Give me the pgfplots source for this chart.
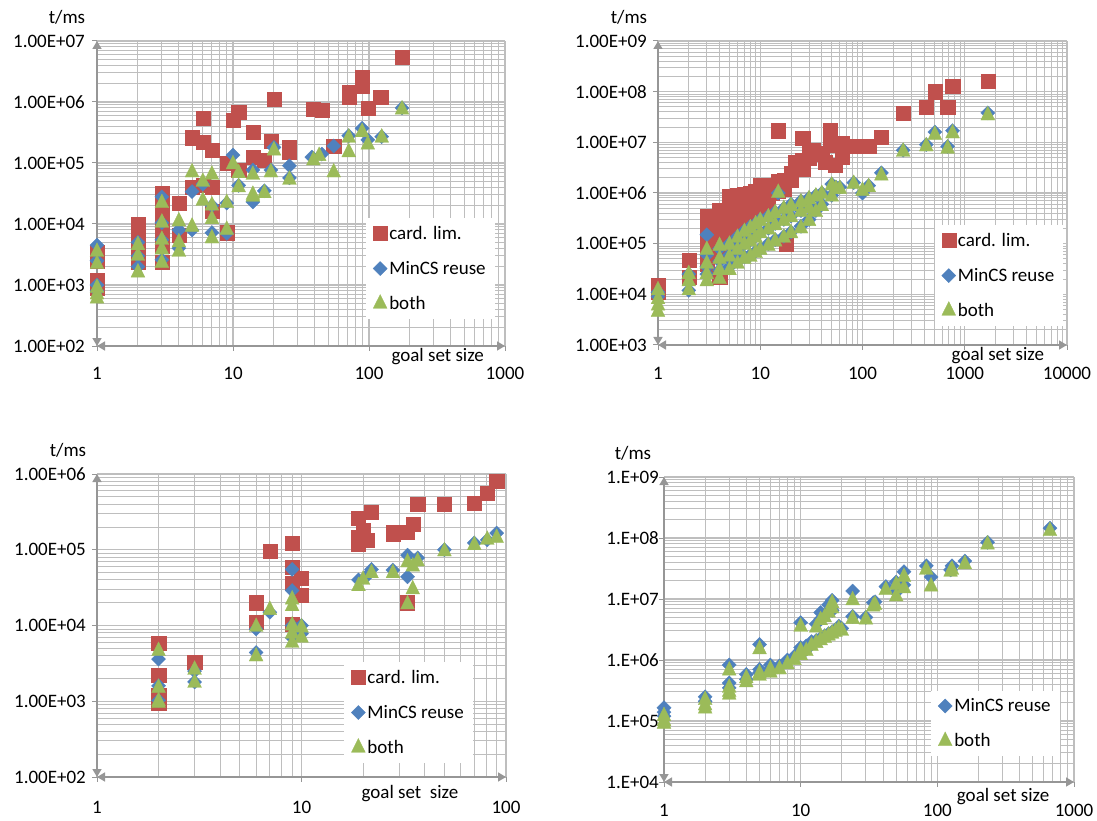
\documentclass[border=0pt]{standalone}
\usepackage{fontspec}
\setmainfont{Carlito}
\usepackage{pgfplots}
\pgfplotsset{compat=1.18}
\usetikzlibrary{arrows.meta}
\definecolor{cred}{RGB}{192,80,77}
\definecolor{cblue}{RGB}{79,129,189}
\definecolor{cgreen}{RGB}{155,187,89}
\definecolor{gridc}{RGB}{190,190,190}
\definecolor{axc}{RGB}{150,150,150}
\newcommand\lf{\fontsize{19}{23}\selectfont}
\pgfplotsset{
  every axis/.append style={
    scale only axis,
    grid=both,
    major grid style={line width=1.2pt, color=gridc},
    minor grid style={line width=0.9pt, color=gridc},
    axis x line*=bottom, axis y line*=left,
    tick align=outside, major tick length=5pt, minor tick length=0pt,
    tick style={color=axc, line width=1pt},
    xticklabel style={font=\lf, anchor=center, inner sep=0pt, yshift=-22pt},
    yticklabel style={font=\lf, anchor=east, inner sep=0pt},
    clip=false,
    legend style={draw=none, fill=white, font=\lf, anchor=north west,
      inner xsep=7pt, inner ysep=6pt, row sep=16.5pt},
    legend cell align=left,
    xlabel style={font=\lf, anchor=center},
    ylabel style={font=\lf, anchor=center, rotate=-90},
  },
  every outer x axis line/.append style={axc, line width=1.5pt, {Triangle[width=9pt,length=8pt]}-{Triangle[width=9pt,length=8pt]}},
  every outer y axis line/.append style={axc, line width=1.5pt, {Triangle[width=9pt,length=8pt]}-{Triangle[width=9pt,length=8pt]}},
  pred/.style={only marks, mark=square*, mark size=7.1pt, mark options={draw=cred, fill=cred, line width=0.3pt}},
  pblue/.style={only marks, mark=square*, mark size=5pt, mark options={draw=cblue, fill=cblue, rotate=45, line width=0.3pt}},
  pgreen/.style={only marks, mark=triangle*, mark size=8pt, mark options={draw=cgreen, fill=cgreen, yscale=1.15, line width=0.3pt}},
}
\begin{document}
\begin{tikzpicture}[x=1pt,y=1pt]
\path[use as bounding box] (0pt,0pt) rectangle (1097pt,-821pt);

% ---------------- Panel 1 ----------------
\begin{axis}[xmode=log, ymode=log,
  at={(97pt,-346pt)}, anchor=south west, width=408pt, height=305pt,
  xmin=1, xmax=1000, ymin=1e2, ymax=1e7,
  xtick={1,10,100,1000}, xticklabels={1,10,100,1000},
  minor xtick={2,3,4,5,6,7,8,9,20,30,40,50,60,70,80,90,200,300,400,500,600,700,800,900},
  ytick={1e2,1e3,1e4,1e5,1e6,1e7},
  yticklabels={1.00E+02,1.00E+03,1.00E+04,1.00E+05,1.00E+06,1.00E+07},
  minor ytick={2e2,3e2,4e2,5e2,6e2,7e2,8e2,9e2,2e3,3e3,4e3,5e3,6e3,7e3,8e3,9e3,2e4,3e4,4e4,5e4,6e4,7e4,8e4,9e4,2e5,3e5,4e5,5e5,6e5,7e5,8e5,9e5,2e6,3e6,4e6,5e6,6e6,7e6,8e6,9e6},
  yticklabel style={xshift=-7pt},
  ylabel={t/ms}, ylabel style={at={(axis description cs:-0.0735,1.079)}},
  xlabel={goal set size}, xlabel style={at={(axis description cs:0.835,-0.036)}},
  legend style={at={(0.659,0.42)}},
]
\addplot[pred] coordinates {(1,3500) (1,2500) (1,1200) (1,900)
(2,1e4) (2,6500) (2,4000) (2,2400)
(3,3.2e4) (3,1.9e4) (3,1.2e4) (3,7200) (3,4300) (3,2400)
(4,2.2e4) (4,6500) (5,2.6e5) (5,4e4) (6,5.5e5) (6,2.2e5) (6,4.3e4)
(7,1.6e5) (7,4e4) (7,1.6e4) (9,1e5) (9,7200) (10,5e5) (11,6.8e5) (11,7.7e4)
(14,3.2e5) (14,1.25e5) (17,1.1e5) (19,2.3e5) (20,1.1e6) (26,1.8e5) (26,1.5e5)
(39,7.7e5) (45,7.4e5) (55,1.9e5) (71,1.45e6) (71,1.2e6) (89,2.5e6) (89,1.8e6)
(98,8e5) (122,1.2e6) (175,5.5e6)};
\addlegendentry{card. lim.}
\addplot[pblue] coordinates {(1,4500) (1,2500) (1,1000) (1,800)
(2,5000) (2,3000) (2,2000) (3,2.8e4) (3,1.05e4) (3,5500) (3,2600)
(4,8000) (4,4000) (5,3.4e4) (5,8000) (6,4.5e4) (7,2e4) (7,7200) (9,2.2e4) (9,7000)
(10,1.35e5) (11,4.3e4) (14,7.7e4) (14,2.3e4) (17,3.5e4) (19,7.7e4) (20,1.8e5)
(26,9e4) (26,5.7e4) (38,1.25e5) (45,1.4e5) (55,1.9e5) (71,2.8e5) (89,3.7e5)
(98,2.4e5) (124,2.7e5) (175,8e5)};
\addlegendentry{MinCS reuse}
\addplot[pgreen] coordinates {(1,3500) (1,2200) (1,900) (1,700) (1,600)
(2,4500) (2,3000) (2,1600) (3,2.2e4) (3,1.05e4) (3,5500) (3,3800) (3,2300)
(4,1.1e4) (4,5000) (4,3500) (5,7e4) (5,9000) (6,4.9e4) (6,2.4e4)
(7,6.4e4) (7,2e4) (7,1.2e4) (7,5800) (9,2.2e4) (9,8000) (10,9.5e4)
(11,6.8e4) (11,4e4) (14,6.4e4) (14,3e4) (14,2.8e4) (17,3.2e4) (19,7e4) (20,1.6e5)
(26,5.3e4) (39,1.1e5) (43,1.3e5) (55,7e4) (71,2.6e5) (71,1.5e5) (89,3.2e5)
(98,2e5) (124,2.6e5) (175,7.5e5)};
\addlegendentry{both}
\end{axis}

% ---------------- Panel 2 ----------------
\begin{axis}[xmode=log, ymode=log,
  at={(658pt,-345pt)}, anchor=south west, width=409pt, height=304pt,
  xmin=1, xmax=10000, ymin=1e3, ymax=1e9,
  xtick={1,10,100,1000,10000}, xticklabels={1,10,100,1000,10000},
  minor xtick={2,3,4,5,6,7,8,9,20,30,40,50,60,70,80,90,200,300,400,500,600,700,800,900,2000,3000,4000,5000,6000,7000,8000,9000},
  ytick={1e3,1e4,1e5,1e6,1e7,1e8,1e9},
  yticklabels={1.00E+03,1.00E+04,1.00E+05,1.00E+06,1.00E+07,1.00E+08,1.00E+09},
  minor ytick={2e3,3e3,4e3,5e3,6e3,7e3,8e3,9e3,2e4,3e4,4e4,5e4,6e4,7e4,8e4,9e4,2e5,3e5,4e5,5e5,6e5,7e5,8e5,9e5,2e6,3e6,4e6,5e6,6e6,7e6,8e6,9e6,2e7,3e7,4e7,5e7,6e7,7e7,8e7,9e7,2e8,3e8,4e8,5e8,6e8,7e8,8e8,9e8},
  yticklabel style={xshift=-6pt},
  xticklabel style={yshift=-1pt},
  ylabel={t/ms}, ylabel style={at={(axis description cs:-0.0709,1.079)}},
  xlabel={goal set size}, xlabel style={at={(axis description cs:0.831,-0.036)}},
  legend style={at={(0.676,0.395)}},
]
\addplot[pred] coordinates {(1,1.5e4) (1,1.1e4) (2,4.8e4) (2,2.2e4)
(3,3.4e5) (3,2.5e5) (3,1.8e5) (3,1.3e5) (3,9e4) (3,6e4) (3,4e4)
(4,4.6e5) (4,3.5e5) (4,2.2e5) (4,1.2e5) (4,6e4) (4,2.2e4)
(5,8.5e5) (5,6e5) (5,4e5) (5,2.5e5) (5,1.5e5)
(6,8.9e5) (6,7e5) (6,5e5) (6,3e5) (6,1.8e5)
(7,9.5e5) (7,7e5) (7,4.5e5) (7,2.5e5)
(8,1e6) (8,8e5) (8,5e5) (8,3e5)
(9,1.1e6) (9,7.5e5) (9,4.5e5)
(10,1.4e6) (10,1e6) (10,6.5e5) (10,4e5)
(11,1.2e6) (11,8e5) (12,1.3e6) (12,9e5) (12,5e5) (13,1.4e6) (13,1e6)
(15,1.7e7) (15,1.7e6) (15,1.1e6) (17,1.8e6) (17,1.2e6) (18,1e5)
(20,2.5e6) (20,1.8e6) (22,4e6) (22,3e6) (26,1.2e7) (26,4.5e6) (26,3e6)
(30,7e6) (30,5e6) (33,7e6) (40,6e6) (43,4e6) (48,1.7e7) (48,9e6) (54,3.5e6)
(63,9.8e6) (63,5.2e6) (85,8.3e6) (115,8.5e6) (153,1.25e7) (250,3.8e7)
(420,5e7) (510,1e8) (680,5e7) (760,1.3e8) (1680,1.6e8)};
\addlegendentry{card. lim.}
\addplot[pblue] coordinates {(1,1.1e4) (1,9000) (2,2.5e4) (2,1.2e4)
(3,1.5e5) (3,6e4) (3,3.5e4) (3,2.5e4) (4,8e4) (4,4.5e4) (4,3e4)
(5,1e5) (5,6e4) (5,3.5e4) (6,1.4e5) (6,8e4) (6,4.5e4)
(7,1.8e5) (7,1e5) (7,5.5e4) (8,2.2e5) (8,1.2e5) (8,6e4)
(9,2.5e5) (9,1.4e5) (9,7e4) (10,3e5) (10,1.7e5) (10,8e4)
(12,3.5e5) (12,2e5) (12,1e5) (14,4.2e5) (14,2.5e5) (14,1.2e5) (15,1e6)
(17,5e5) (17,3e5) (17,1.4e5) (20,6e5) (20,3.5e5) (20,1.7e5)
(25,7e5) (25,4.5e5) (25,2.2e5) (30,8e5) (30,5.5e5) (30,3e5)
(35,9e5) (35,4.5e5) (40,1e6) (40,6e5) (50,1.5e6) (50,9e5) (55,1.3e6) (60,1.3e6)
(82,1.6e6) (100,1e6) (115,1.4e6) (153,2.5e6) (250,7e6) (420,9e6)
(510,1.6e7) (680,8.3e6) (760,1.7e7) (1680,3.8e7)};
\addlegendentry{MinCS reuse}
\addplot[pgreen] coordinates {(1,1.2e4) (1,8000) (1,6000) (1,4500)
(2,2.5e4) (2,1.8e4) (2,1.2e4) (3,7.5e4) (3,4e4) (3,2.5e4) (3,1.8e4)
(4,9e4) (4,5e4) (4,3e4) (4,2e4) (5,9.5e4) (5,5.5e4) (5,3e4)
(6,1.3e5) (6,7.5e4) (6,4e4) (7,1.7e5) (7,9.5e4) (7,5e4)
(8,2e5) (8,1.1e5) (8,5.5e4) (9,2.4e5) (9,1.3e5) (9,6.5e4)
(10,2.8e5) (10,1.6e5) (10,7.5e4) (12,3.3e5) (12,1.9e5) (12,9e4)
(14,4e5) (14,2.3e5) (14,1.1e5) (15,1e6) (17,4.8e5) (17,2.8e5) (17,1.3e5)
(20,5.5e5) (20,3.3e5) (20,1.6e5) (25,6.5e5) (25,4.2e5) (25,2e5)
(30,7.5e5) (30,5e5) (30,2.8e5) (35,8.5e5) (35,4.2e5) (40,9.5e5) (40,5.5e5)
(50,1.4e6) (50,8.5e5) (55,1.2e6) (60,1.2e6) (82,1.5e6) (100,1.1e6) (115,1.3e6)
(153,2.2e6) (250,6.5e6) (420,8.3e6) (510,1.4e7) (680,7.5e6) (760,1.5e7) (1680,3.4e7)};
\addlegendentry{both}
\end{axis}

% ---------------- Panel 3 ----------------
\begin{axis}[xmode=log, ymode=log,
  at={(97pt,-777pt)}, anchor=south west, width=409pt, height=303pt,
  xmin=1, xmax=100, ymin=1e2, ymax=1e6,
  xtick={1,10,100}, xticklabels={1,10,100},
  minor xtick={2,3,4,5,6,7,8,9,20,30,40,50,60,70,80,90},
  ytick={1e2,1e3,1e4,1e5,1e6},
  yticklabels={1.00E+02,1.00E+03,1.00E+04,1.00E+05,1.00E+06},
  minor ytick={2e2,3e2,4e2,5e2,6e2,7e2,8e2,9e2,2e3,3e3,4e3,5e3,6e3,7e3,8e3,9e3,2e4,3e4,4e4,5e4,6e4,7e4,8e4,9e4,2e5,3e5,4e5,5e5,6e5,7e5,8e5,9e5},
  yticklabel style={xshift=-6pt},
  xticklabel style={yshift=-3pt},
  ylabel={t/ms}, ylabel style={at={(axis description cs:-0.0709,1.079)}},
  xlabel={goal set\ \ size}, xlabel style={at={(axis description cs:0.765,-0.053)}},
  legend style={at={(0.604,0.38)}},
]
\addplot[pred] coordinates {(2,5900) (2,2200) (2,1200) (2,950) (3,3300)
(6,2e4) (6,1.1e4) (7,9.6e4) (9,1.23e5) (9,5.9e4) (9,3.6e4) (9,1.03e4)
(10,4.2e4) (10,2.5e4) (19,2.6e5) (19,1.45e5) (19,1.2e5) (20,1.8e5) (21,1.35e5)
(22,3.1e5) (28,1.7e5) (28,1.6e5) (33,1.7e5) (33,2e4) (35,2.2e5) (37,4e5)
(50,4e5) (70,4.1e5) (81,5.6e5) (90,8.1e5)};
\addlegendentry{card. lim.}
\addplot[pblue] coordinates {(2,3600) (2,1600) (2,1030) (3,2500) (3,1800)
(6,9000) (6,4400) (7,1.5e4) (9,5.5e4) (9,2.9e4) (9,1e4) (9,6900)
(10,1e4) (10,7800) (19,4e4) (21,4.6e4) (22,5.5e4) (28,5.4e4) (33,8.5e4) (33,4.4e4)
(37,7.8e4) (50,1e5) (70,1.23e5) (81,1.35e5) (90,1.66e5)};
\addlegendentry{MinCS reuse}
\addplot[pgreen] coordinates {(2,4600) (2,1500) (2,1000) (2,950) (3,2600) (3,1750)
(6,9600) (6,3900) (7,1.6e4) (9,2.2e4) (9,1.8e4) (9,1e4) (9,7800) (9,5900)
(10,9400) (10,6900) (19,3.3e4) (20,4e4) (22,4.9e4) (28,4.9e4) (33,6.8e4) (33,1.9e4)
(35,6e4) (35,3e4) (37,7e4) (50,9.5e4) (70,1.15e5) (81,1.35e5) (90,1.43e5)};
\addlegendentry{both}
\end{axis}

% ---------------- Panel 4 ----------------
\begin{axis}[xmode=log, ymode=log,
  at={(664pt,-782pt)}, anchor=south west, width=410pt, height=305pt,
  xmin=1, xmax=1000, ymin=1e4, ymax=1e9,
  xtick={1,10,100,1000}, xticklabels={1,10,100,1000},
  minor xtick={2,3,4,5,6,7,8,9,20,30,40,50,60,70,80,90,200,300,400,500,600,700,800,900},
  ytick={1e4,1e5,1e6,1e7,1e8,1e9},
  yticklabels={1.E+04,1.E+05,1.E+06,1.E+07,1.E+08,1.E+09},
  minor ytick={2e4,3e4,4e4,5e4,6e4,7e4,8e4,9e4,2e5,3e5,4e5,5e5,6e5,7e5,8e5,9e5,2e6,3e6,4e6,5e6,6e6,7e6,8e6,9e6,2e7,3e7,4e7,5e7,6e7,7e7,8e7,9e7,2e8,3e8,4e8,5e8,6e8,7e8,8e8,9e8},
  yticklabel style={xshift=0pt},
  xticklabel style={yshift=-1pt},
  ylabel={t/ms}, ylabel style={at={(axis description cs:-0.0756,1.079)}},
  xlabel={goal set size}, xlabel style={at={(axis description cs:0.827,-0.049)}},
  legend style={at={(0.651,0.30)}},
]
\addplot[pblue] coordinates {(1,1.65e5) (1,1.4e5) (1,1.2e5) (2,2.5e5) (2,2.1e5)
(3,8.3e5) (3,4.2e5) (3,3.5e5) (4,5.8e5) (4,4.8e5) (5,1.8e6) (5,7e5) (5,6.2e5)
(6,8.3e5) (6,7.2e5) (7,8e5) (8,1e6) (9,1.15e6) (10,4.1e6) (10,1.6e6) (10,1.4e6)
(11,1.7e6) (11,1.5e6) (12,2e6) (12,1.8e6) (13,3.9e6) (13,2.1e6)
(14,6e6) (14,4.7e6) (14,2.3e6) (15,5.5e6) (15,2.5e6) (16,8e6) (16,2.7e6)
(17,9.5e6) (17,6.5e6) (17,2.9e6) (18,3.1e6) (19,3.6e6) (20,3.3e6)
(24,1.35e7) (24,5.2e6) (30,5e6) (34,8.7e6) (35,9e6) (42,1.6e7)
(50,1.9e7) (50,1.3e7) (57,2.8e7) (57,1.7e7) (83,3.5e7) (90,2.3e7)
(125,3e7) (128,3.5e7) (159,4.2e7) (233,8.5e7) (667,1.45e8)};
\addlegendentry{MinCS reuse}
\addplot[pgreen] coordinates {(1,1.2e5) (1,1e5) (1,9e4) (2,2.2e5) (2,1.8e5) (2,1.6e5)
(3,6.7e5) (3,3.5e5) (3,3e5) (3,2.7e5) (4,5e5) (4,4.3e5) (5,1.5e6) (5,6e5) (5,5.5e5)
(6,7e5) (6,6.2e5) (7,7e5) (8,8.5e5) (9,1e6) (10,3.5e6) (10,1.4e6) (10,1.2e6)
(11,1.4e6) (12,1.7e6) (13,3.4e6) (13,1.9e6) (14,4.5e6) (14,2.1e6)
(15,5e6) (15,2.3e6) (16,6e6) (16,2.5e6) (17,7e6) (17,8.5e6) (17,2.7e6)
(18,2.9e6) (19,3.2e6) (20,3e6) (24,9.5e6) (24,4.7e6) (30,4.6e6) (34,7.5e6) (35,8e6)
(42,1.4e7) (50,1.7e7) (50,1.1e7) (57,2.3e7) (57,1.5e7) (83,3e7) (90,1.6e7)
(125,2.8e7) (128,3e7) (159,3.7e7) (233,7.8e7) (667,1.3e8)};
\addlegendentry{both}
\end{axis}
\end{tikzpicture}
\end{document}
